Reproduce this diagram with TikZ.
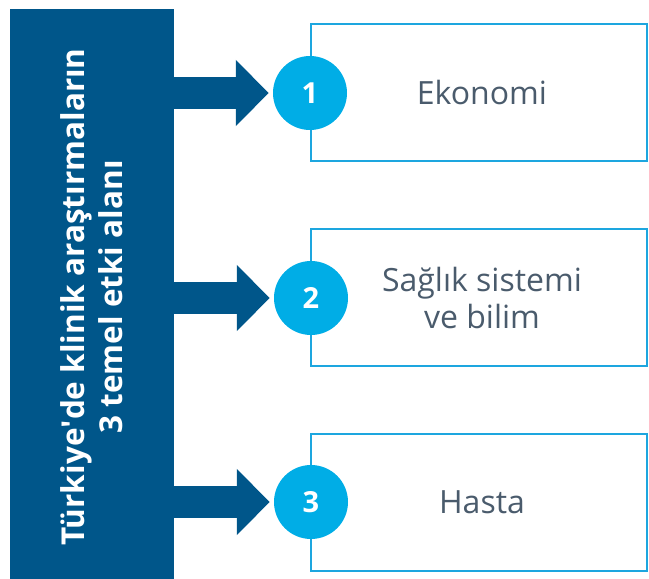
\documentclass[tikz,border=0pt]{standalone}
\usepackage{fontspec}
\setmainfont{Open Sans}
\usetikzlibrary{arrows.meta}
\definecolor{darkblue}{HTML}{00568A}
\definecolor{lightblue}{HTML}{00ADE6}
\definecolor{framblue}{HTML}{1DA6DF}
\definecolor{slate}{HTML}{4A5B6C}
\tikzset{
  titlebox/.style={fill=darkblue, minimum width=164pt, minimum height=570pt, inner sep=0pt},
  areabox/.style={draw=framblue, line width=2pt, minimum width=336pt, minimum height=137pt,
    inner sep=0pt, text=slate, align=center, font=\fontsize{32}{37}\selectfont},
  numdot/.style={circle, fill=lightblue, minimum size=74pt, inner sep=0pt, text=white,
    font=\fontsize{29}{34}\selectfont\bfseries},
  fatarrow/.style={draw=darkblue, line width=32pt,
    -{Triangle[length=33pt, width=64pt]}, shorten >=4pt}
}
\begin{document}
\begin{tikzpicture}[x=1pt, y=-1pt]
  \useasboundingbox (0,0) rectangle (649,579);
    \node [titlebox] (t) at (92, 294) {};
    \node [rotate=90, text=white, align=center, font=\fontsize{31.5}{38}\selectfont\bfseries]
      (tt) at (92, 297) {Türkiye\textquotesingle de klinik araştırmaların\\3 temel etki alanı};
    \node [areabox] (b1) at (479, 92.5) {\hspace*{6pt}Ekonomi};
    \node [areabox] (b2) at (479, 297.5) {\hspace*{6pt}Sağlık sistemi\\\hspace*{6pt}ve bilim};
    \node [areabox] (b3) at (479, 502) {\hspace*{6pt}Hasta};
    \node [numdot] (n1) at (310,  93) {1};
    \node [numdot] (n2) at (311, 298) {2};
    \node [numdot] (n3) at (311, 502) {3};
    \draw [fatarrow] (t.east |- n1) -- (n1.west);
    \draw [fatarrow] (t.east |- n2) -- (n2.west);
    \draw [fatarrow] (t.east |- n3) -- (n3.west);
\end{tikzpicture}
\end{document}
